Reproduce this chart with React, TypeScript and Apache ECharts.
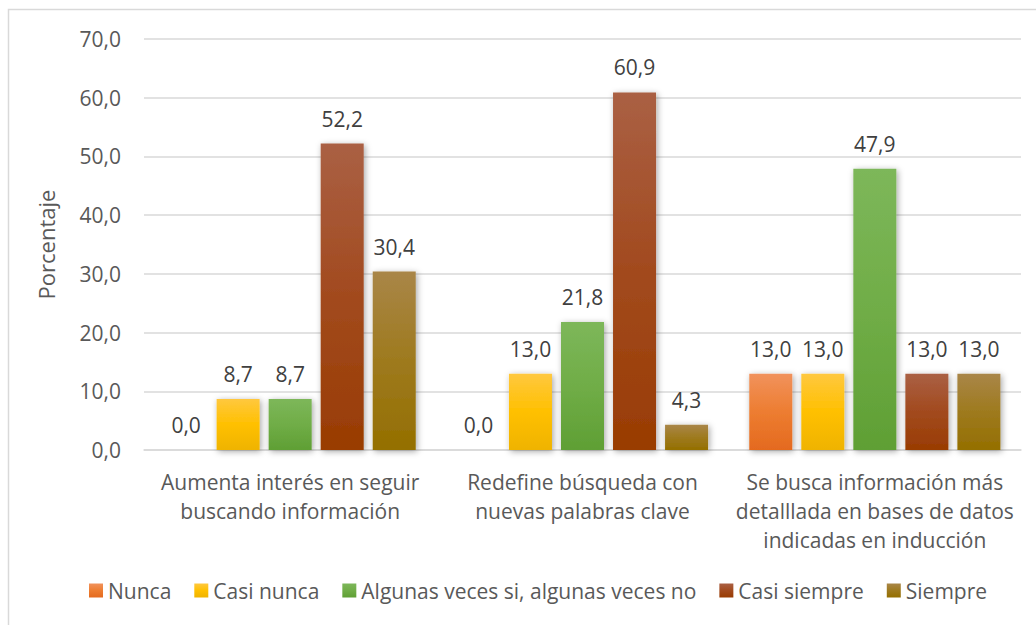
import React, { useEffect, useRef } from "react";
import * as echarts from "echarts";

const categories = [
  "Aumenta interés en seguir\nbuscando información",
  "Redefine búsqueda con\nnuevas palabras clave",
  "Se busca información más\ndetalllada en bases de datos\nindicadas en inducción",
];
const seriesNames = ["Nunca", "Casi nunca", "Algunas veces si, algunas veces no", "Casi siempre", "Siempre"];
const nunca = [0.0, 0.0, 13.0];
const casiNunca = [8.7, 13.0, 13.0];
const algunas = [8.7, 21.8, 47.9];
const casiSiempre = [52.2, 60.9, 13.0];
const siempre = [30.4, 4.3, 13.0];
const yTicks = { min: 0, max: 70, interval: 10 };

const gradients: [string, string, string][] = [
  ["#F1925C", "#ED7D31", "#E46A1F"],
  ["#FFC83F", "#FFC000", "#EFB300"],
  ["#7DB75A", "#70AD47", "#5F9F34"],
  ["#AA6044", "#A24A1E", "#993C02"],
  ["#A98648", "#9E7A1E", "#946F00"],
];

const FONT = "'Open Sans', sans-serif";
const fmt = (v: number) => v.toFixed(1).replace(".", ",");

export default function App() {
  const ref = useRef<HTMLDivElement>(null);
  useEffect(() => {
    const chart = echarts.init(ref.current!, null, { renderer: "svg" });
    const data = [nunca, casiNunca, algunas, casiSiempre, siempre];
    chart.setOption({
      animation: false,
      backgroundColor: "#ffffff",
      textStyle: { fontFamily: FONT },
      graphic: [
        {
          type: "rect",
          shape: { x: 8.5, y: 9.5, width: 1200, height: 800 },
          style: { fill: "none", stroke: "#d9d9d9", lineWidth: 1.5 },
          silent: true,
        },
      ],
      grid: { left: 144, right: 15, top: 39, bottom: 175 },
      legend: {
        bottom: 19,
        left: 84,
        itemWidth: 14,
        itemHeight: 14,
        itemGap: 23,
        icon: "rect",
        textStyle: { color: "#595959", fontSize: 21, fontFamily: FONT },
        data: seriesNames,
      },
      xAxis: {
        type: "category",
        data: categories,
        axisTick: { show: false },
        axisLine: { lineStyle: { color: "#d9d9d9", width: 1.5 } },
        axisLabel: {
          color: "#595959",
          fontSize: 21,
          lineHeight: 29,
          margin: 17,
          fontFamily: FONT,
          interval: 0,
        },
      },
      yAxis: {
        type: "value",
        min: yTicks.min,
        max: yTicks.max,
        interval: yTicks.interval,
        name: "Porcentaje",
        nameLocation: "middle",
        nameRotate: 90,
        nameGap: 87,
        nameTextStyle: { color: "#595959", fontSize: 22, fontFamily: FONT },
        axisLabel: {
          color: "#595959",
          fontSize: 21,
          margin: 23,
          fontFamily: FONT,
          formatter: (v: number) => fmt(v),
        },
        axisLine: { show: false },
        axisTick: { show: false },
        splitLine: { lineStyle: { color: "#d9d9d9", width: 1.5 } },
      },
      series: seriesNames.map((name, i) => ({
        name,
        type: "bar",
        data: data[i],
        barWidth: 43,
        barGap: "21%",
        itemStyle: {
          color: new echarts.graphic.LinearGradient(0, 0, 0, 1, [
            { offset: 0, color: gradients[i][0] },
            { offset: 0.5, color: gradients[i][1] },
            { offset: 1, color: gradients[i][2] },
          ]),
          shadowColor: "rgba(0,0,0,0.35)",
          shadowBlur: 6,
          shadowOffsetX: 1.5,
          shadowOffsetY: 1.5,
        },
        label: {
          show: true,
          position: "top",
          distance: 15,
          color: "#404040",
          fontSize: 21,
          lineHeight: 20,
          fontFamily: FONT,
          formatter: (p: any) => fmt(p.value),
        },
      })),
    });
    return () => chart.dispose();
  }, []);
  return (
    <div
      ref={ref}
      style={{ position: "fixed", left: 0, top: 0, width: 1036, height: 625 }}
    />
  );
}
